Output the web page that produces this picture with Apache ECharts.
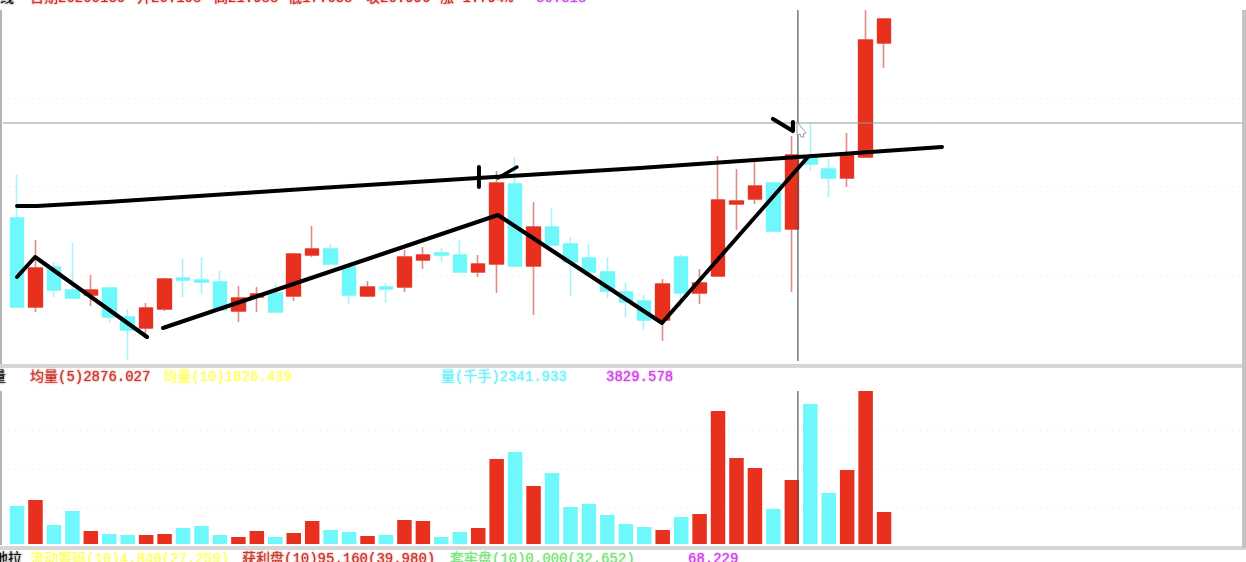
<!DOCTYPE html>
<html>
<head>
<meta charset="utf-8">
<style>
html,body{margin:0;padding:0;background:#fff;overflow:hidden}
#chart{width:1246px;height:562px;filter:blur(0.6px)}
</style>
<script src="https://cdn.jsdelivr.net/npm/echarts@6/dist/echarts.min.js"></script>
</head>
<body>
<div id="chart"></div>
<script>
const opens  = [19.1,14.65,16.65,15.5,15.25,15.6,14.15,13.6,14.55,16.1,16,15.9,14.45,15.15,15.35,15.2,17.25,17.55,16.65,15.2,15.65,15.65,17,17.35,17.25,16.4,16.8,20.8,16.7,18.65,17.8,17.1,16.4,15.4,14.95,14,17.15,15.35,16.2,19.8,20.05,20.85,18.55,22.15,21.55,21.1,22.15,27.85];
const closes = [14.65,16.6,15.5,15.1,15.5,14.15,13.5,14.6,16.05,16,15.9,14.5,15.1,15.3,14.4,17.3,17.55,16.8,15.25,15.65,15.55,17.15,17.25,17.25,16.4,16.8,20.85,16.7,18.65,17.75,16.9,16.4,15.45,14.9,14,15.8,15.35,15.85,20,19.95,20.7,18.45,22.25,21.8,21.1,22.25,28,29.05];
const highs  = [21.25,18,16.9,17.85,16.25,15.6,14.55,14.85,16.1,17.05,17.15,16.45,15.7,15.65,15.85,17.35,18.7,17.8,16.65,15.95,15.85,17.5,17.65,17.6,18,17.25,21.45,22.15,19.9,19.6,18.15,17.8,17.15,15.85,15.25,16.05,17.25,16.55,22.2,21.55,21.9,20.85,23.2,23.85,22.05,23.35,29.5,29.05];
const lows   = [14.65,14.4,15.15,15.1,14.7,13.85,12,13.35,14.45,15.15,15.3,14.5,13.9,14.4,14.4,14.95,17.15,16.75,14.8,15.15,14.85,15.4,16.55,16.9,16.4,16.15,15.35,16.7,14.25,17.75,15.2,16.4,15.1,14.15,13.5,12.95,14.65,14.8,16.2,18.5,19.8,18.45,15.4,21.45,20.15,20.65,22.15,26.6];
const volumes = [1391,1610,695,1208,476,366,329,329,366,586,659,329,256,476,256,403,842,512,439,293,329,878,842,256,439,586,3111,3367,2123,2599,1354,1464,1061,732,622,512,988,1098,4868,3148,2782,1281,2342,5124,1867,2708,5600,1171];
const priceGrid = [25.1,20.7,16.25];
const volumeGrid = [4172,2745,1318];
// Hand-drawn annotations, as [bar index, price]
const resistanceLine = [[0,19.7],[1.08,19.7],[4.88,19.9],[16.42,20.6],[24.99,21.1],[33.77,21.6],[50.14,22.65]];
const zigzagLeft = [[0,16.15],[0.98,17.15],[7.05,13.15]];
const zigzagMain = [[7.91,13.6],[26.07,19.25],[34.96,13.85],[42.87,22.15]];
const tickMark = [[25.04,21.65],[25.04,20.65]];
const slashMark = [[26.07,21.1],[27.1,21.65]];
const penStroke = [[40.98,24.05],[42.06,23.45],[42.06,23.9]];
const crossV = [[42.33,29.5],[42.33,11.95]];
const crossH = [[-0.76,23.85],[66.4,23.85]];
const crossVolV = [[42.33,5600],[42.33,0]];

const BAR_SLOTS = 67;
const categories = Array.from({length:BAR_SLOTS},(_,i)=>String(i+1));
const RED='#e8301f', CYAN='#6ff8fc', RED_WICK='#dc8d86', CYAN_WICK='#a6f4f7';
const MONO="'Liberation Mono','Noto Sans CJK SC',monospace";

function txt(x,y,s,fill,size){
  return {type:'text',x:x,y:y,silent:true,z:50,style:{text:s,fill:fill,font:(size||14)+'px '+MONO,textVerticalAlign:'middle',textAlign:'left',textShadowColor:fill,textShadowBlur:2}};
}
function rect(x,y,w,h,c){return {type:'rect',silent:true,z:40,shape:{x:x,y:y,width:w,height:h},style:{fill:c}};}
function penLine(data,w,name){
  return {type:'line',name:name,xAxisIndex:2,yAxisIndex:0,data:data,symbol:'none',clip:false,silent:true,z:20,
    lineStyle:{color:'#000',width:w,cap:'round',join:'round'},animation:false};
}
function hair(data,c,xi,yi,w){
  return {type:'line',xAxisIndex:xi,yAxisIndex:yi,data:data,symbol:'none',clip:false,silent:true,z:15,
    lineStyle:{color:c,width:w||1},animation:false};
}
const gridLineStyle={color:'#f0f0f0',type:[2,4],width:1};

const option={
  animation:false,
  backgroundColor:'#fff',
  grid:[
    {left:7.8,width:1236,top:0,height:364},
    {left:7.8,width:1236,top:391,height:153},
    {left:0,width:1246,top:0,height:364}
  ],
  xAxis:[
    {type:'category',gridIndex:0,data:categories,show:false,boundaryGap:true},
    {type:'category',gridIndex:1,data:categories,show:false,boundaryGap:true},
    {type:'value',gridIndex:0,min:-0.5,max:66.5,show:false},
    {type:'value',gridIndex:1,min:-0.5,max:66.5,show:false},
    {type:'value',gridIndex:2,min:-0.92,max:66.61,show:false}
  ],
  yAxis:[
    {type:'value',gridIndex:0,min:11.8,max:30,show:false,splitLine:{show:false}},
    {type:'value',gridIndex:1,min:0,max:5600,show:false,splitLine:{show:false}},
    {type:'value',gridIndex:2,min:11.8,max:30,show:false,splitLine:{show:false}}
  ],
  series:[
    {type:'candlestick',name:'wick',xAxisIndex:0,yAxisIndex:0,barWidth:14,silent:true,z:3,
     data:opens.map((o,i)=>[o,closes[i],lows[i],highs[i]]),
     itemStyle:{color:'rgba(0,0,0,0)',color0:'rgba(0,0,0,0)',borderColor:RED_WICK,borderColor0:CYAN_WICK,borderWidth:1.6},
     markLine:{silent:true,symbol:'none',label:{show:false},lineStyle:gridLineStyle,z:1,data:priceGrid.map(v=>({yAxis:v}))}
    },
    {type:'candlestick',name:'body',xAxisIndex:0,yAxisIndex:0,barWidth:14,silent:true,z:4,
     data:opens.map((o,i)=>[o,closes[i],Math.min(o,closes[i]),Math.max(o,closes[i])]),
     itemStyle:{color:RED,color0:CYAN,borderColor:RED,borderColor0:CYAN,borderWidth:1}
    },
    {type:'bar',name:'volume',xAxisIndex:1,yAxisIndex:1,barWidth:14.5,silent:true,z:3,
     data:volumes.map((v,i)=>({value:v,itemStyle:{color:closes[i]>=opens[i]?RED:CYAN}})),
     markLine:{silent:true,symbol:'none',label:{show:false},lineStyle:gridLineStyle,z:1,data:volumeGrid.map(v=>({yAxis:v}))}
    },
    hair(crossH,'#999',4,2,1),
    hair(crossV,'#555',2,0,1.2),
    hair(crossVolV,'#555',3,1,1.2),
    penLine(resistanceLine,4,'resistance'),
    penLine(zigzagLeft,4,'zigzag-left'),
    penLine(zigzagMain,4,'zigzag-main'),
    penLine(tickMark,4,'tick'),
    penLine(slashMark,3.4,'slash'),
    penLine(penStroke,4.2,'stroke')
  ],
  graphic:[
    rect(0,10,2,354,'#b4b4b4'),
    rect(0,391,2,154,'#b4b4b4'),
    rect(0,364,1246,4,'#d6d6d6'),
    rect(0,546,1246,4,'#d6d6d6'),
    rect(1242,10,4,538,'#c4c4c4'),
    {type:'polygon',silent:true,z:45,shape:{points:[[797,122],[806,133],[803,134],[804,137],[801,137],[800,134],[797,135]]},style:{fill:'#fff',stroke:'#999',lineWidth:1}},
    txt(0,-2,'线','#111'),
    txt(30,-2,'日期20200130','#d02a20'),
    txt(137,-2,'开20.108','#d02a20'),
    txt(214,-2,'高21.988','#d02a20'),
    txt(288,-2,'低17.638','#d02a20'),
    txt(366,-2,'收20.996','#d02a20'),
    txt(440,-2,'涨-1.794%','#d02a20'),
    txt(536,-2,'30.318','#c848e8'),
    txt(-8,377,'量','#111'),
    txt(30,377,'均量(5)2876.027','#c8362c'),
    txt(163,377,'均量(10)1826.439','#ffff66'),
    txt(441,377,'量(千手)2341.933','#6ff0fa'),
    txt(606,377,'3829.578','#cc3fe6'),
    txt(-6,559,'地拉','#111'),
    txt(30,559,'流动筹码(10)4.840(27.259)','#ffff66'),
    txt(242,559,'获利盘(10)95.160(39.980)','#c8362c'),
    txt(450,559,'套牢盘(10)0.000(32.652)','#7fe07f'),
    txt(688,559,'68.229','#cc3fe6')
  ]
};
const chart=echarts.init(document.getElementById('chart'),null,{renderer:'canvas'});
chart.setOption(option);
</script>
</body>
</html>
